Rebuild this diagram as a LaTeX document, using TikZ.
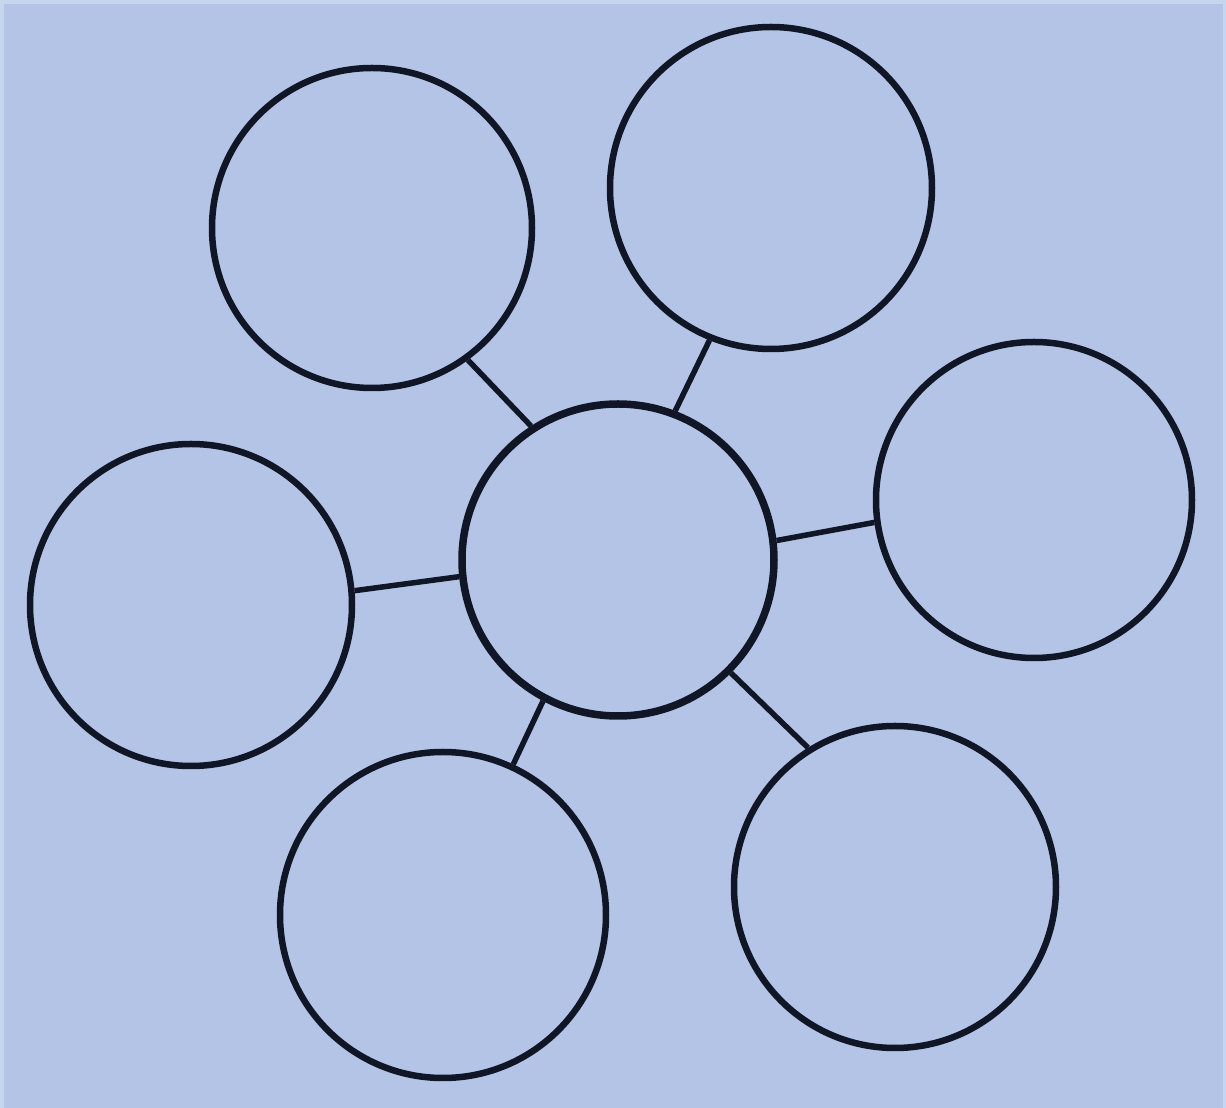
\documentclass[tikz,border=0pt]{standalone}
\definecolor{paper}{RGB}{179,196,230}
\definecolor{paperedge}{RGB}{198,214,239}
\definecolor{ink}{RGB}{16,22,38}
\tikzset{
    bubble/.style={circle, draw=ink, line width=0.065cm, inner sep=0pt},
    spoke/.style={draw=ink, line width=0.055cm}
}
\begin{document}
\begin{tikzpicture}
    % Paper
    \useasboundingbox (0,0) rectangle (12.26,11.08);
    \fill[paperedge] (0,0) rectangle (12.26,11.08);
    \fill[paper] (0.04,0) rectangle (12.23,11.04);

    % Bubbles
    \node[bubble, minimum size=3.12cm, line width=0.075cm] (hub) at (6.18,5.48) {};
    \node[bubble, minimum size=3.20cm] (upleft) at (3.72,8.80) {};
    \node[bubble, minimum size=3.22cm] (upright) at (7.71,9.20) {};
    \node[bubble, minimum size=3.16cm] (right) at (10.34,6.08) {};
    \node[bubble, minimum size=3.22cm] (left) at (1.91,5.03) {};
    \node[bubble, minimum size=3.26cm] (downleft) at (4.43,1.93) {};
    \node[bubble, minimum size=3.22cm] (downright) at (8.95,2.21) {};

    % Spokes
    \draw[spoke] (hub.123) -- (upleft.-54);
    \draw[spoke] (hub.69) -- (upright.-112);
    \draw[spoke] (hub.7) -- (right.-172);
    \draw[spoke] (hub.186) -- (left.5);
    \draw[spoke] (hub.-118) -- (downleft.65);
    \draw[spoke] (hub.-45) -- (downright.122);
\end{tikzpicture}
\end{document}
